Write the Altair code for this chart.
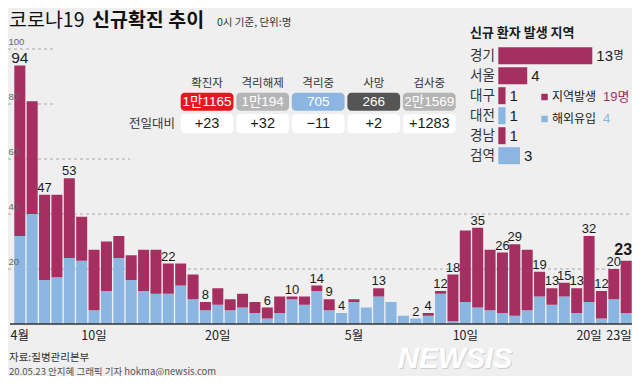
import altair as alt
import pandas as pd

# ---------------- data ----------------
dates = [f"04-{d:02d}" for d in range(4, 31)] + [f"05-{d:02d}" for d in range(1, 24)]
total = [94, 81, 47, 47, 53, 39, 27, 30, 32, 25, 27, 27, 22, 22, 18, 8, 13, 9, 11, 8, 6, 10, 10, 10, 14, 9, 4,
         9, 6, 13, 8, 3, 2, 4, 12, 18, 34, 35, 27, 26, 29, 27, 19, 13, 15, 13, 32, 12, 20, 23]
imported = [32, 40, 16, 17, 24, 23, 5, 12, 24, 16, 12, 11, 11, 14, 9, 5, 7, 5, 6, 4, 2, 4, 9, 7, 12, 5, 4,
            8, 6, 10, 8, 3, 2, 3, 11, 1, 8, 6, 5, 4, 3, 5, 10, 7, 10, 4, 8, 2, 9, 4]
labeled_dates = ["04-06", "04-08", "04-16", "04-19", "04-24", "04-26", "04-28", "04-29", "04-30",
                 "05-03", "05-06", "05-07", "05-08", "05-09", "05-11", "05-13", "05-14", "05-16",
                 "05-17", "05-18", "05-19", "05-20", "05-21", "05-22"]
peak_date = ["04-04"]
last_date = ["05-23"]
tick_dates = ["04-04", "04-10", "04-20", "05-01", "05-10", "05-20"]
tick_labels = ["4월", "10일", "20일", "5월", "10일", "20일"]
last_tick_dates = ["05-23"]
last_tick_labels = ["23일"]
grid_full = [20, 40]
grid_mid = [60]
grid_short = [80, 100]
ytick_values = [20, 40, 60, 80, 100]

stat_names = ["확진자", "격리해제", "격리중", "사망", "검사중"]
stat_values = ["1만1165", "1만194", "705", "266", "2만1569"]
stat_diffs = ["+23", "+32", "−11", "+2", "+1283"]

regions = ["경기", "서울", "대구", "대전", "경남", "검역"]
region_counts = [13, 4, 1, 1, 1, 3]
region_kinds = ["지역발생", "지역발생", "지역발생", "해외유입", "지역발생", "해외유입"]
legend_names = ["지역발생", "해외유입"]
legend_values = ["19명", "4"]

# ---------------- style ----------------
RED = "#a52f61"
BLUE = "#8cb6e2"
BG = "#efefef"
NUM = "Liberation Sans, Noto Sans CJK KR, sans-serif"
KR = "Noto Sans CJK KR, Noto Sans, sans-serif"


def label(text, x, y, **kw):
    return alt.Chart(pd.DataFrame({"t": [text]})).mark_text(**kw).encode(
        x=alt.value(x), y=alt.value(y), text="t:N")


# ---------------- main bar chart ----------------
daily = pd.DataFrame({"date": dates, "total": total, "imported": imported})
xscale = alt.Scale(domain=dates, range=[6.3, 623.7], paddingInner=0.11, paddingOuter=0)
yscale = alt.Scale(domain=[0, 100], range=[316, 41])
X = alt.X("date:O", scale=xscale, axis=None)

grid_df = pd.DataFrame({"v": ytick_values})


def grid(vals, x2):
    return alt.Chart(grid_df).transform_filter(
        alt.FieldOneOfPredicate(field="v", oneOf=vals)
    ).mark_rule(color="#a8a8a8", strokeDash=[3, 3], strokeWidth=1).encode(
        y=alt.Y("v:Q", scale=yscale, axis=None), x=alt.value(0), x2=alt.value(x2))


ylabels = alt.Chart(grid_df).mark_text(
    font=NUM, fontSize=9.5, color="#666", align="left", baseline="alphabetic", dy=-4
).encode(y=alt.Y("v:Q", scale=yscale, axis=None), x=alt.value(0.5), text="v:Q")

blue_bars = alt.Chart(daily).mark_bar(color=BLUE).encode(
    x=X, y=alt.Y("imported:Q", scale=yscale, axis=None))
red_bars = alt.Chart(daily).mark_bar(color=RED).encode(
    x=X, y=alt.Y("total:Q", scale=yscale, axis=None), y2="imported:Q")

baseline = alt.Chart(pd.DataFrame({"z": [0]})).mark_rule(color="#333", strokeWidth=1.5).encode(
    y=alt.Y("z:Q", scale=yscale, axis=None), x=alt.value(2), x2=alt.value(624))


def value_labels(which, size, weight="normal", dx=0, dy=-3):
    return alt.Chart(daily).transform_filter(
        alt.FieldOneOfPredicate(field="date", oneOf=which)
    ).mark_text(font=NUM, fontSize=size, fontWeight=weight, color="#1a1a1a",
                baseline="alphabetic", dy=dy, dx=dx).encode(
        x=X, y=alt.Y("total:Q", scale=yscale, axis=None), text="total:Q")


ticks = alt.Chart(pd.DataFrame({"date": tick_dates, "lab": tick_labels})).mark_text(
    font=KR, fontSize=12.5, color="#222", baseline="alphabetic"
).encode(x=X, y=alt.value(332), text="lab:N")
last_tick = alt.Chart(pd.DataFrame({"date": last_tick_dates, "lab": last_tick_labels})).mark_text(
    font=KR, fontSize=12.5, color="#222", baseline="alphabetic", align="right", dx=5.5
).encode(x=X, y=alt.value(332), text="lab:N")

main = alt.layer(
    grid(grid_full, 624), grid(grid_mid, 122), grid(grid_short, 45),
    blue_bars, red_bars, baseline, ylabels,
    value_labels(labeled_dates, 13), value_labels(peak_date, 15.5),
    value_labels(last_date, 16, "bold", dx=-3, dy=-6), ticks, last_tick,
)

# ---------------- status table ----------------
tdf = pd.DataFrame({"stat": stat_names, "val": stat_values, "diff": stat_diffs})
XT = alt.X("stat:N", scale=alt.Scale(domain=stat_names, range=[172.7, 447.7],
                                      paddingInner=0.05, paddingOuter=0), axis=None)
tb = alt.Chart(tdf)
table = alt.layer(
    tb.mark_bar(cornerRadius=4).encode(
        x=XT, y=alt.value(84.7), y2=alt.value(102.7),
        color=alt.Color("stat:N", scale=alt.Scale(
            domain=stat_names, range=["#e5161d", "#b5b5b5", BLUE, "#555555", "#b5b5b5"]), legend=None)),
    tb.mark_bar(cornerRadius=4, color="#ffffff").encode(
        x=XT, y=alt.value(106), y2=alt.value(125.3)),
    tb.mark_text(font=KR, fontSize=11.5, color="#333", baseline="alphabetic").encode(
        x=XT, y=alt.value(79), text="stat:N"),
    tb.mark_text(font=NUM, fontSize=13.5, color="#ffffff", baseline="middle").encode(
        x=XT, y=alt.value(94), text="val:N"),
    tb.mark_text(font=NUM, fontSize=14.5, color="#1a1a1a", baseline="middle").encode(
        x=XT, y=alt.value(116), text="diff:N"),
    label("전일대비", 167, 116, font=KR, fontSize=12.5, color="#333", align="right", baseline="middle"),
)

# ---------------- region panel ----------------
pdf = pd.DataFrame({"region": regions, "cnt": region_counts, "kind": region_kinds})
XP = alt.X("cnt:Q", scale=alt.Scale(domain=[0, 13], range=[490.3, 584.3]), axis=None)
YP = alt.Y("region:N", scale=alt.Scale(domain=regions, range=[39.2, 156.2],
                                        paddingInner=0.15, paddingOuter=0), axis=None)
kind_scale = alt.Scale(domain=legend_names, range=[RED, BLUE])
pb = alt.Chart(pdf)
panel = alt.layer(
    pb.mark_bar().encode(x=XP, y=YP, color=alt.Color("kind:N", scale=kind_scale, legend=None)),
    pb.mark_text(font=KR, fontSize=13.5, color="#333", align="left", baseline="middle").encode(
        x=alt.value(462), y=YP, text="region:N"),
    pb.mark_text(font=NUM, fontSize=15, color="#1a1a1a", align="left", baseline="middle", dx=4).encode(
        x=XP, y=YP, text="cnt:Q"),
)

ldf = pd.DataFrame({"name": legend_names, "v": legend_values})
YL = alt.Y("name:N", scale=alt.Scale(type="point", domain=legend_names, range=[89, 111], padding=0), axis=None)
lb = alt.Chart(ldf)
legend = alt.layer(
    lb.mark_square(size=42, opacity=1, filled=True).encode(
        x=alt.value(536.5), y=YL, color=alt.Color("name:N", scale=kind_scale, legend=None)),
    lb.mark_text(font=KR, fontSize=12, color="#1a1a1a", align="left", baseline="middle").encode(
        x=alt.value(544), y=YL, text="name:N"),
    lb.mark_text(font=NUM, fontSize=13, align="left", baseline="middle").encode(
        x=alt.value(595), y=YL, text="v:N", color=alt.Color("name:N", scale=kind_scale, legend=None)),
)

# ---------------- texts ----------------
texts = alt.layer(
    label("코로나19", 1, 19, font=KR, fontSize=19.5, color="#111", align="left", baseline="alphabetic"),
    label("신규확진 추이", 84, 19, font=KR, fontSize=19.5, fontWeight="bold", color="#111",
          align="left", baseline="alphabetic"),
    label("0시 기준, 단위:명", 209, 18, font=KR, fontSize=10.5, color="#333", align="left",
          baseline="alphabetic"),
    label("신규 환자 발생 지역", 462, 28.5, font=KR, fontSize=13, fontWeight="bold", color="#1a1a1a",
          align="left", baseline="alphabetic"),
    label("명", 605.5, 48, font=KR, fontSize=11, color="#1a1a1a", align="left", baseline="middle"),
    label("자료:질병관리본부", 1, 353, font=KR, fontSize=10.5, color="#333", align="left",
          baseline="alphabetic"),
    label("20.05.23 안지혜 그래픽 기자 hokma@newsis.com", 1, 366.5, font=KR, fontSize=9.5,
          color="#555", align="left", baseline="alphabetic"),
    label("NEWSIS", 391, 361, font="Liberation Sans", fontSize=29, fontWeight="bold",
          fontStyle="italic", color="#cfcfcf", align="left", baseline="alphabetic"),
    label("NEWSIS", 390, 360, font="Liberation Sans", fontSize=29, fontWeight="bold",
          fontStyle="italic", color="#ffffff", align="left", baseline="alphabetic"),
)

chart = alt.layer(main, table, panel, legend, texts).resolve_scale(
    x="independent", y="independent", color="independent"
).properties(
    width=624, height=368, padding=0, background=BG,
    autosize=alt.AutoSizeParams(type="none"),
).configure_view(stroke=None)

chart.save("out.html", embed_options={"renderer": "svg", "actions": False})
